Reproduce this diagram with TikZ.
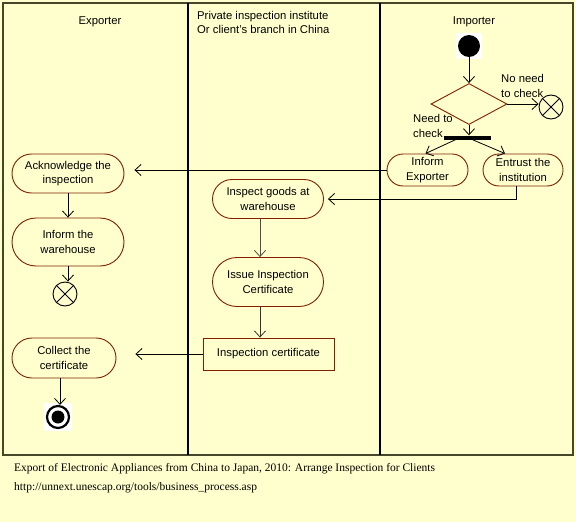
\documentclass[tikz,border=0pt]{standalone}
\usepackage{fontspec}
\setmainfont{Liberation Sans}
\newfontfamily\capserif{Liberation Serif}
\usetikzlibrary{arrows.meta,shapes.misc,shapes.geometric}
\definecolor{bg}{RGB}{255,255,206}
\definecolor{nb}{RGB}{128,32,0}
\definecolor{frame}{RGB}{70,70,40}
\tikzset{
  act/.style={rounded rectangle, draw=nb, line width=0.9pt, fill=bg, align=center,
    font=\fontsize{11.3}{14.3}\selectfont, inner sep=0pt},
  certbox/.style={rectangle, draw=nb, line width=0.9pt, fill=bg,
    font=\fontsize{11.3}{14.3}\selectfont, inner sep=0pt},
  arr/.style={-{Straight Barb[length=6pt,width=11pt]}, line width=0.8pt},
  lbl/.style={font=\fontsize{11.3}{14.3}\selectfont, align=left, inner sep=0pt},
  xend/.style={circle, draw, line width=0.9pt, fill=bg, minimum size=24pt, inner sep=0pt},
  capt/.style={font=\capserif\fontsize{11.5}{13}\selectfont, inner sep=0pt, anchor=west}
}
\begin{document}
\begin{tikzpicture}[x=1pt,y=-1pt]
\useasboundingbox (0,0) rectangle (576,522);
\fill[bg] (0,0) rectangle (576,522);
% frame and lanes
\draw[frame, line width=1.3pt] (3,3) rectangle (573,455);
\draw[black, line width=1.8pt] (188,3) -- (188,455);
\draw[black, line width=1.8pt] (380,3) -- (380,455);
% headers
\node[lbl] (hexp) at (100,22) {Exporter};
\node[lbl, anchor=west] (hpriv) at (197,22.5) {Private inspection institute\\Or client’s branch in China};
\node[lbl] (himp) at (474,22) {Importer};
% importer lane
\node[fill=white, minimum size=26pt, inner sep=0pt] (sbg) at (469,46) {};
\node[circle, fill=black, minimum size=22pt, inner sep=0pt] (start) at (469,46) {};
\node[diamond, draw=nb, line width=0.9pt, fill=bg, minimum width=76pt, minimum height=41pt, inner sep=0pt] (dec) at (469,104) {};
\draw[arr] (start) -- (dec.north);
\node[xend] (x1) at (551,107) {};
\draw[line width=0.9pt] (x1.45) -- (x1.225) (x1.135) -- (x1.315);
\draw[arr] (dec.east) -- (dec.east -| x1.west);
\node[lbl, anchor=west] (nolbl) at (501,86) {No need\\to check};
\node[lbl, anchor=west] (needlbl) at (413,126) {Need to\\check};
\node[fill=black, minimum width=47pt, minimum height=4pt, inner sep=0pt] (fork) at (467.5,137.5) {};
\draw[arr] (dec.south) -- (dec.south |- fork.north);
\node[act, minimum width=81pt, minimum height=32pt] (ie) at (427.5,170) {Inform\\Exporter};
\node[act, minimum width=80pt, minimum height=32pt] (en) at (523,170) {Entrust the\\institution};
\draw[arr] ([xshift=-12pt]fork.south) -- ([xshift=-2pt]ie.north);
\draw[arr] ([xshift=5pt]fork.south) -- ([xshift=-18pt]en.north);
% exporter lane
\node[act, minimum width=112pt, minimum height=39pt] (ack) at (68,173.5) {Acknowledge the\\inspection};
\draw[arr, shorten >=10pt] (ie.west) -- (ie.west -| ack.east);
\node[act, minimum width=112pt, minimum height=48pt] (iw) at (68,242) {Inform the\\warehouse};
\draw[arr] (ack.south) -- (iw.north);
\node[xend] (x2) at (65,294) {};
\draw[line width=0.9pt] (x2.45) -- (x2.225) (x2.135) -- (x2.315);
\draw[arr] (iw.south) -- (iw.south |- x2.north);
% inspection lane
\node[act, minimum width=111pt, minimum height=39pt] (ig) at (268,199) {Inspect goods at\\warehouse};
\draw[arr, shorten >=4pt] ([xshift=-7pt]en.south) |- (ig.east);
\node[act, minimum width=111pt, minimum height=49pt] (ii) at (268,282) {Issue Inspection\\Certificate};
\draw[arr, black!70] ([xshift=-8pt]ig.south) -- ([xshift=-8pt]ig.south |- ii.north);
\node[certbox, minimum width=131pt, minimum height=32pt] (cert) at (268.5,354) {Inspection certificate};
\draw[arr, black!80] ([xshift=-8pt]ii.south) -- ([xshift=-8pt]ii.south |- cert.north);
\node[act, minimum width=104pt, minimum height=40pt] (col) at (64,358) {Collect the\\certificate};
\draw[arr, shorten >=19pt] (cert.west) -- (cert.west -| col.east);
\node[fill=white, minimum size=28pt, inner sep=0pt] (fbg) at (58,417) {};
\node[circle, draw, line width=2.2pt, minimum size=22pt, inner sep=0pt] (fin) at (58,417) {};
\node[circle, fill=black, minimum size=13pt, inner sep=0pt] (finin) at (58,417) {};
\draw[arr] ([xshift=-4pt]col.south) -- ([xshift=-4pt]col.south |- fin.north);
% caption
\node[capt] (cap1) at (14,469) {Export of Electronic Appliances from China to Japan, 2010: Arrange Inspection for Clients};
\node[capt] (cap2) at (14,487.5) {http://unnext.unescap.org/tools/business\_process.asp};
\end{tikzpicture}
\end{document}
